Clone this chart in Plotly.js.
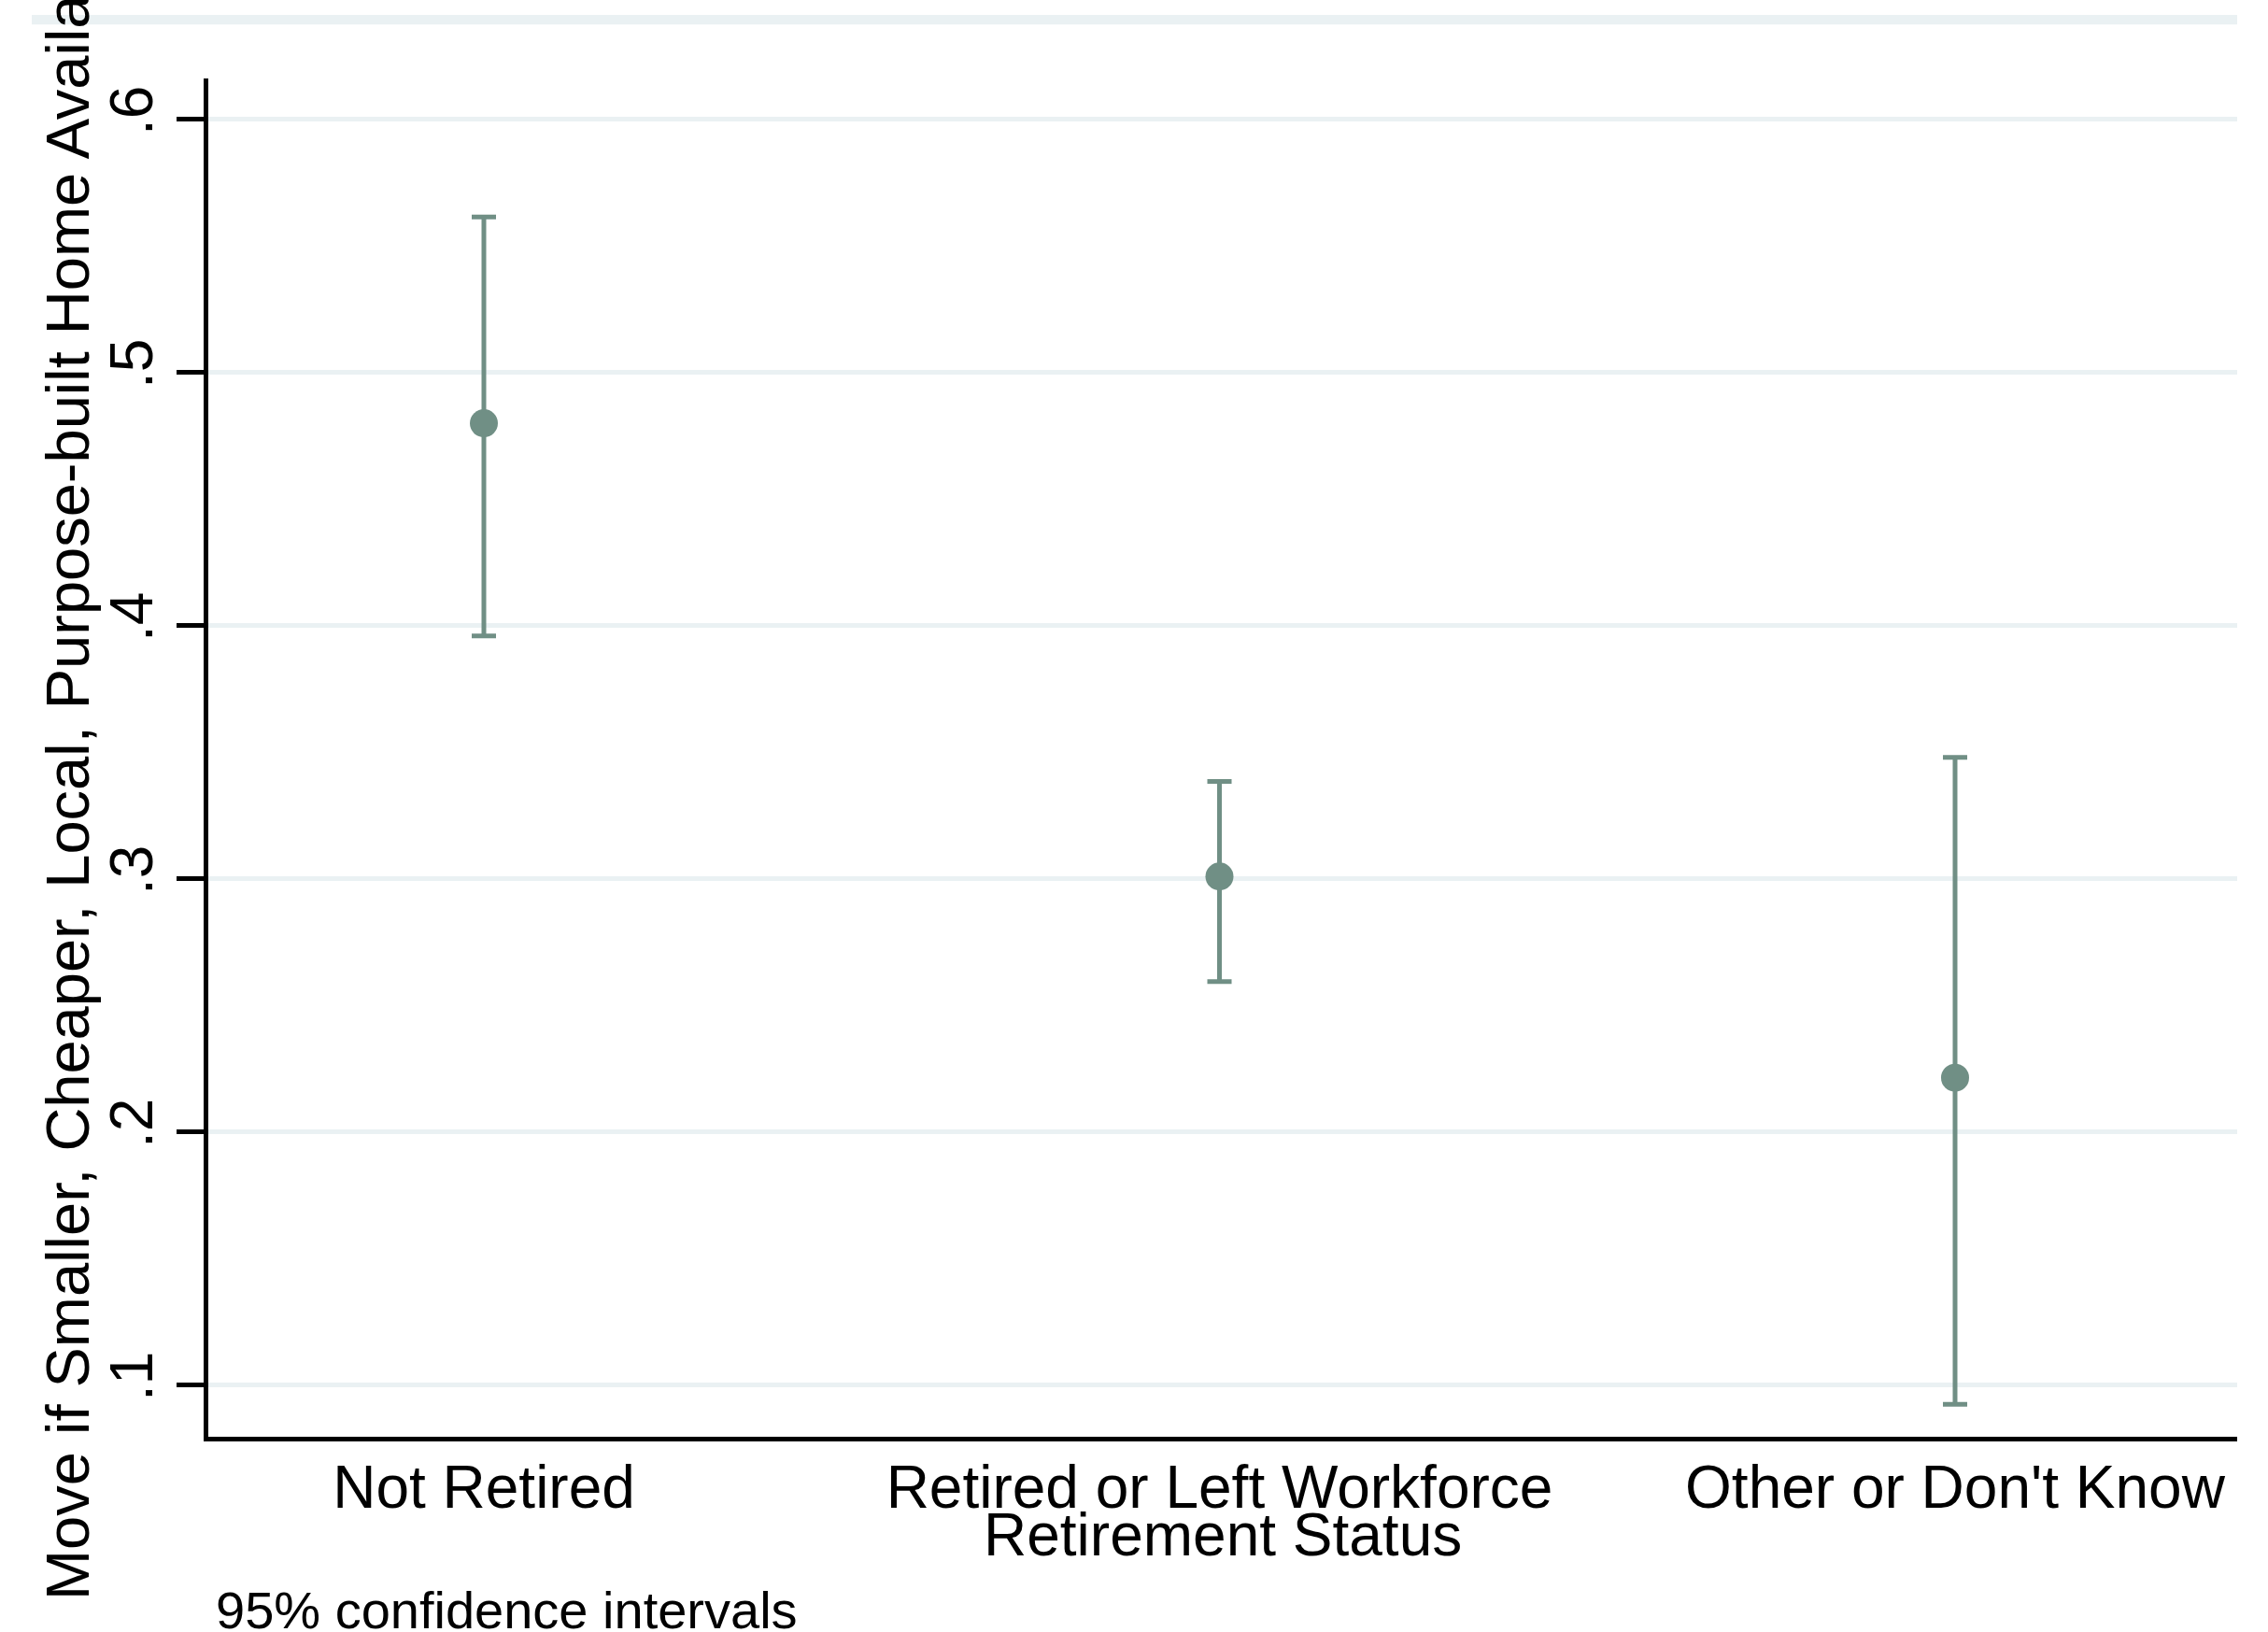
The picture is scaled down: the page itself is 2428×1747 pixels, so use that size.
<!DOCTYPE html>
<html>
<head>
<meta charset="utf-8">
<script src="https://cdn.plot.ly/plotly-3.0.1.min.js"></script>
<style>
  html, body { margin: 0; padding: 0; background: #ffffff; }
  #chart { width: 2428px; height: 1747px; }
</style>
</head>
<body>
<div id="chart"></div>
<script>
// ---- data ----
const categories = ["Not Retired", "Retired or Left Workforce", "Other or Don't Know"];
const estimates  = [0.480, 0.301, 0.2215];
const ciLower    = [0.396, 0.2595, 0.0925];
const ciUpper    = [0.5615, 0.3385, 0.348];
const yTickValues = [0.1, 0.2, 0.3, 0.4, 0.5, 0.6];
const yTickLabels = [".1", ".2", ".3", ".4", ".5", ".6"];
const xTitle = "Retirement Status";
const yTitle = "Move if Smaller, Cheaper, Local, Purpose-built Home Available";
const note = "95% confidence intervals";

const markColor = "#708f85";
const gridColor = "#eaf1f3";
const font = "Liberation Sans, Arial, sans-serif";

const errPlus  = estimates.map((v, i) => ciUpper[i] - v);
const errMinus = estimates.map((v, i) => v - ciLower[i]);

const trace = {
  type: "scatter",
  mode: "markers",
  x: categories,
  y: estimates,
  marker: { color: markColor, size: 30, symbol: "circle", line: { width: 0 } },
  error_y: {
    type: "data",
    symmetric: false,
    array: errPlus,
    arrayminus: errMinus,
    color: markColor,
    thickness: 5,
    width: 13,
    visible: true
  },
  hoverinfo: "skip",
  showlegend: false
};

const layout = {
  width: 2428,
  height: 1747,
  margin: { l: 223, r: 33, t: 84, b: 209, pad: 0 },
  paper_bgcolor: "#ffffff",
  plot_bgcolor: "#ffffff",
  font: { family: font, color: "#000000", size: 64 },
  showlegend: false,
  xaxis: {
    type: "category",
    range: [-0.3746, 2.3835],
    showgrid: false,
    zeroline: false,
    showline: true,
    linecolor: "#000000",
    linewidth: 5,
    ticks: "",
    ticklabelstandoff: -6,
    tickfont: { family: font, size: 64, color: "#000000" },
    fixedrange: true
  },
  yaxis: {
    range: [0.0797, 0.6162],
    tickmode: "array",
    tickvals: yTickValues,
    ticktext: yTickLabels,
    tickangle: -90,
    ticks: "outside",
    ticklen: 29,
    tickwidth: 5,
    tickcolor: "#000000",
    showline: true,
    linecolor: "#000000",
    linewidth: 5,
    showgrid: true,
    gridcolor: gridColor,
    gridwidth: 5,
    zeroline: false,
    tickfont: { family: font, size: 64, color: "#000000" },
    fixedrange: true
  },
  shapes: [
    { type: "rect", xref: "paper", yref: "paper",
      x0: -0.0870, x1: 1.0, y0: 1.0398, y1: 1.0467,
      fillcolor: gridColor, line: { width: 0 }, layer: "below" }
  ],
  annotations: [
    { text: yTitle, xref: "paper", yref: "paper", x: -0.0695, y: 0.5,
      xanchor: "center", yanchor: "middle", textangle: -90, showarrow: false,
      font: { family: font, size: 65, color: "#000000" } },
    { text: xTitle, xref: "paper", yref: "paper", x: 0.5, y: -0.0725,
      xanchor: "center", yanchor: "middle", showarrow: false,
      font: { family: font, size: 64, color: "#000000" } },
    { text: note, xref: "paper", yref: "paper", x: 0.0028, y: -0.1279,
      xanchor: "left", yanchor: "middle", showarrow: false,
      font: { family: font, size: 56, color: "#000000" } }
  ]
};

Plotly.newPlot("chart", [trace], layout, { staticPlot: true, displayModeBar: false });
</script>
</body>
</html>
